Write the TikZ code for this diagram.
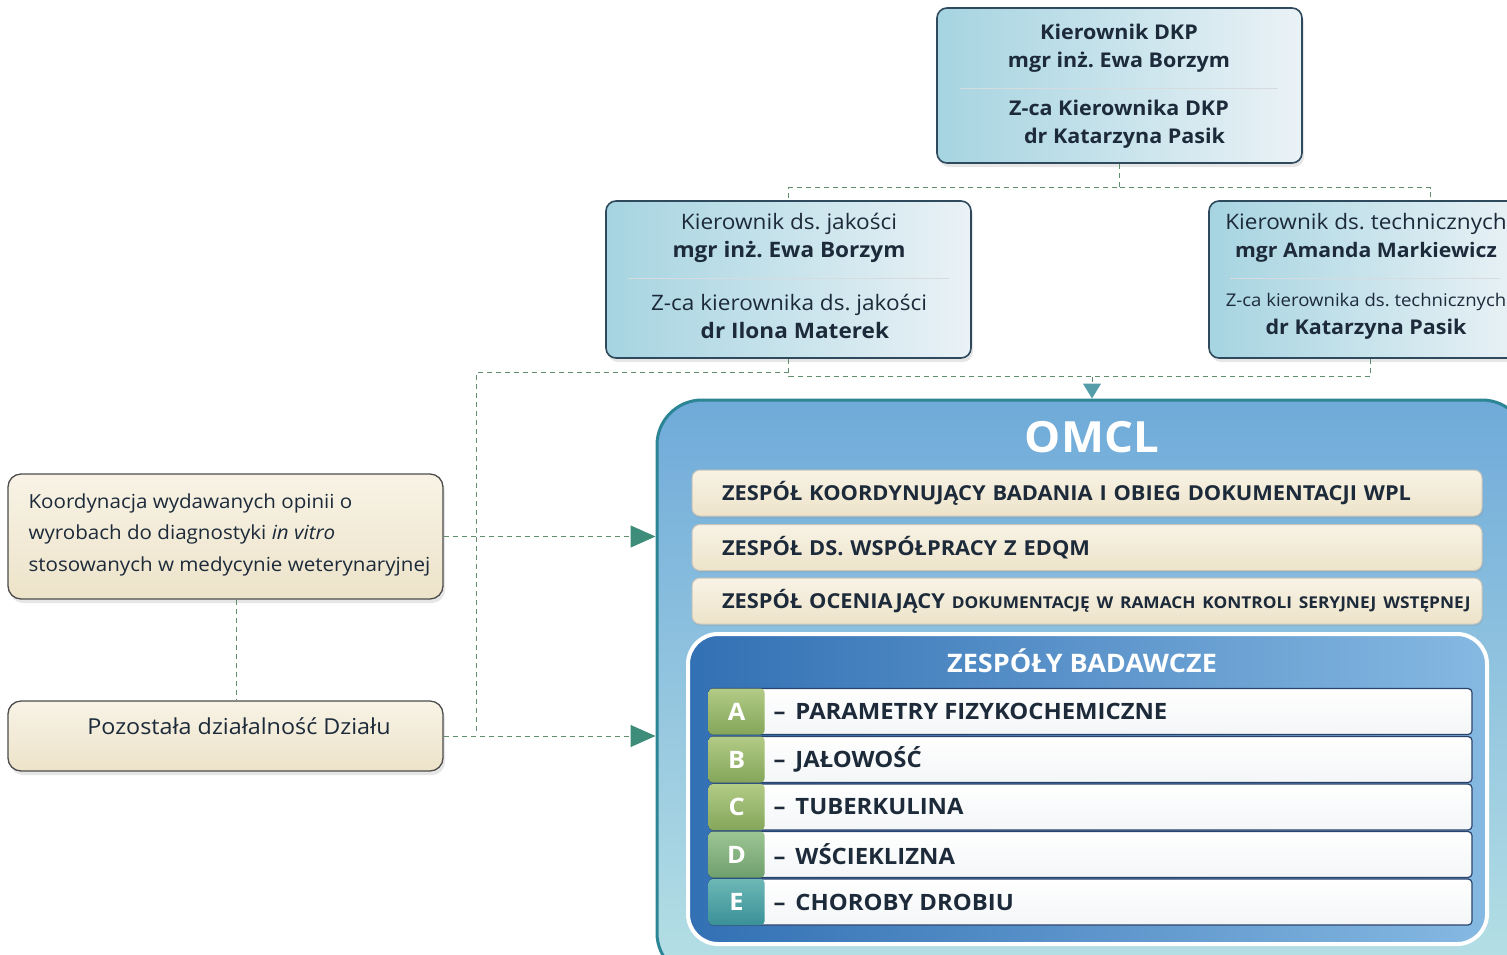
\documentclass[tikz,border=0pt]{standalone}
\usepackage{fontspec}
\setmainfont{Open Sans}[FakeStretch=1.06]
\usetikzlibrary{shadows,arrows.meta}
\frenchspacing

\definecolor{navy}{HTML}{1C2A3A}
\definecolor{boxline}{HTML}{2F4A5C}
\definecolor{bluel}{HTML}{A6D4E1}
\definecolor{bluer}{HTML}{EAF2F6}
\definecolor{creamt}{HTML}{F8F3E6}
\definecolor{creamb}{HTML}{EDE3C9}
\definecolor{dashgreen}{HTML}{5F8F6E}
\definecolor{tipgreen}{HTML}{3E8C7A}
\definecolor{omclline}{HTML}{2C8595}
\definecolor{omclt}{HTML}{6FAAD9}
\definecolor{omclb}{HTML}{B6E0E5}
\definecolor{teaml}{HTML}{3270B4}
\definecolor{teamr}{HTML}{86B9E2}
\definecolor{greent}{HTML}{B2CB86}
\definecolor{greenb}{HTML}{84A65A}
\definecolor{tealt}{HTML}{6DB7B5}
\definecolor{tealb}{HTML}{3A9198}

\tikzset{
  personbox/.style={draw=boxline, line width=1.6pt, rounded corners=10pt,
    left color=bluel, right color=bluer,
    drop shadow={opacity=0.2, shadow xshift=2pt, shadow yshift=-4pt}},
  notebox/.style={draw=black!70, line width=1.3pt, rounded corners=13pt,
    top color=creamt, bottom color=creamb,
    drop shadow={opacity=0.2, shadow xshift=2pt, shadow yshift=-4pt}},
  notetext/.style={text=navy, align=left, font=\fontsize{19.4}{31.5}\selectfont},
  divider/.style={draw=boxline!20, line width=0.8pt},
  headtext/.style={font=\fontsize{20.3}{28}\selectfont\bfseries, text=navy, align=center},
  roletext/.style={font=\fontsize{21.3}{28}\selectfont, text=navy, align=center},
  link/.style={draw=dashgreen, line width=1pt, dash pattern=on 5pt off 4pt},
  feed/.style={-{Triangle[length=25pt, width=22pt, color=tipgreen]}},
  barbox/.style={draw=creamb!70!black!60, line width=1pt, rounded corners=8pt,
    top color=creamt, bottom color=creamb, minimum width=790pt, minimum height=46pt,
    text width=730pt, align=left, text=navy,
    font=\fontsize{20.6}{25}\selectfont\bfseries,
    drop shadow={opacity=0.15, shadow xshift=1pt, shadow yshift=-2pt}},
  rowbox/.style={draw=boxline!90!blue, line width=1.2pt, rounded corners=4pt,
    top color=white, bottom color=bluer!80!boxline!20, minimum width=763pt, minimum height=46pt},
  letterbox/.style={rounded corners=4pt, minimum width=56pt, minimum height=46pt,
    anchor=west, text=white, font=\fontsize{24}{24}\selectfont\bfseries,
    top color=greent, bottom color=greenb},
  rowtext/.style={anchor=west, text=navy, font=\fontsize{22.5}{25}\selectfont\bfseries}
}

\begin{document}
\begin{tikzpicture}[x=1pt,y=-1pt]
  \clip (0,0) rectangle (1507,954);

  % kierownictwo
  \node[personbox, minimum width=365pt, minimum height=155pt] (dkp) at (1119.5,85.5) {};
  \draw[divider] (960,88) -- (1278,88);
  \node[headtext] (dkphead) at (1119,48) {Kierownik DKP\\mgr inż. Ewa Borzym};
  \node[headtext] (dkpdep) at (1119,124) {Z-ca Kierownika DKP\\\ \ dr Katarzyna Pasik};

  \node[personbox, minimum width=365pt, minimum height=157pt] (qual) at (788.5,279.5) {};
  \draw[divider] (628,278) -- (949,278);
  \node[roletext] (qualhead) at (789,238) {Kierownik ds. jakości\\\textbf{mgr inż. Ewa Borzym}};
  \node[roletext] (qualdep) at (789,316) {Z-ca kierownika ds. jakości\\\ \ \textbf{dr Ilona Materek}};

  \node[personbox, minimum width=314pt, minimum height=157pt] (tech) at (1366,279.5) {};
  \draw[divider] (1230,278) -- (1500,278);
  \node[roletext] (techhead) at (1366,238) {Kierownik ds. technicznych\\{\fontsize{20}{28}\selectfont\bfseries mgr Amanda Markiewicz}};
  \node[roletext] (techdep) at (1366,316) {{\fontsize{17.5}{28}\selectfont Z-ca kierownika ds. technicznych}\\{\fontsize{20.3}{28}\selectfont\bfseries dr Katarzyna Pasik}};

  % dzialy poza OMCL
  \node[notebox, minimum width=435pt, minimum height=125pt] (koord) at (225.5,536.5) {};
  \node[notetext, anchor=west] (koordtext) at (25,534.5)
    {Koordynacja wydawanych opinii o\\wyrobach do diagnostyki \textit{in vitro}\\stosowanych w medycynie weterynaryjnej};
  \node[notebox, minimum width=435pt, minimum height=70pt] (rest) at (225.5,736) {};
  \node[notetext, font=\fontsize{22}{25}\selectfont] (resttext) at (239,726) {Pozostała działalność Działu};

  % OMCL
  \node[draw=omclline, line width=3pt, rounded corners=45pt, minimum width=870pt, minimum height=578pt,
    top color=omclt, bottom color=omclb,
    drop shadow={opacity=0.2, shadow xshift=2pt, shadow yshift=-4pt}] (omcl) at (1092,689) {};
  \node[text=white, font=\fontsize{43}{43}\selectfont\bfseries] (omcltitle) at (1092,437) {OMCL};

  \node[barbox] (wpl) at (1087,493) {ZESPÓŁ KOORDYNUJĄCY BADANIA I OBIEG DOKUMENTACJI WPL};
  \node[barbox] (edqm) at (1087,547.5) {ZESPÓŁ DS. WSPÓŁPRACY Z EDQM};
  \node[barbox] (kswt) at (1087,601) {\mbox{ZESPÓŁ OCENIAJĄCY {\fontsize{16.3}{25}\selectfont DOKUMENTACJĘ W RAMACH KONTROLI SERYJNEJ WSTĘPNEJ}}};

  \node[draw=white, line width=4pt, rounded corners=30pt, minimum width=799pt, minimum height=310pt,
    left color=teaml, right color=teamr] (team) at (1087.5,789) {};
  \node[text=white, font=\fontsize{25.5}{25.5}\selectfont\bfseries] (teamtitle) at (1082,661) {ZESPÓŁY BADAWCZE};

  \node[rowbox] (rowA) at (1090.5,711.5) {};
  \node[letterbox] (letA) at (rowA.west) {A};
  \node[rowtext] (txtA) at (770,711.5) {–\hspace{10pt}PARAMETRY FIZYKOCHEMICZNE};
  \node[rowbox] (rowB) at (1090.5,759.5) {};
  \node[letterbox] (letB) at (rowB.west) {B};
  \node[rowtext] (txtB) at (770,759.5) {–\hspace{10pt}JAŁOWOŚĆ};
  \node[rowbox] (rowC) at (1090.5,807) {};
  \node[letterbox] (letC) at (rowC.west) {C};
  \node[rowtext] (txtC) at (770,807) {–\hspace{10pt}TUBERKULINA};
  \node[rowbox] (rowD) at (1090.5,854.5) {};
  \node[letterbox, top color=greent!70!tealt, bottom color=greenb!70!tealb] (letD) at (rowD.west) {D};
  \node[rowtext] (txtD) at (770,854.5) {–\hspace{10pt}WŚCIEKLIZNA};
  \node[rowbox] (rowE) at (1090.5,902) {};
  \node[letterbox, top color=tealt, bottom color=tealb] (letE) at (rowE.west) {E};
  \node[rowtext] (txtE) at (770,902) {–\hspace{10pt}CHOROBY DROBIU};

  % polaczenia
  \draw[link] (dkp.south) -- ++(0,24) coordinate (split) -| (qual.north);
  \draw[link] (split) -| ([xshift=64pt]tech.north);
  \draw[link] (qual.south) -- ++(0,18) coordinate (join) -| ([xshift=4pt]tech.south);
  \coordinate (bend) at (476,735);
  \draw[link] ([yshift=-14pt]qual.south) -| (bend);
  \draw[link, -{Triangle[length=15pt, width=18pt, color=omclline!80!white]}] (join -| omcl.north) -- (omcl.north);
  \draw[link] (koord.south -| 236,0) -- (rest.north -| 236,0);
  \draw[link, feed] (koord.east) -- (koord.east -| omcl.west);
  \draw[link, feed] (rest.east) -- (rest.east -| omcl.west);
\end{tikzpicture}
\end{document}
